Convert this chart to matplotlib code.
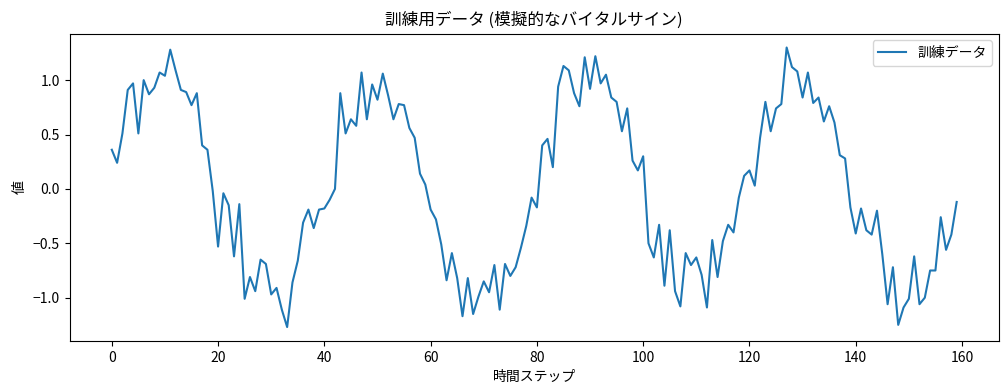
import numpy as np
import matplotlib.pyplot as plt

plt.rcParams['font.family'] = ['Noto Sans CJK JP', 'DejaVu Sans']

# Training data values (steps 0..159)
values = [
    0.36, 0.24, 0.51, 0.91, 0.97, 0.51, 1.00, 0.87, 0.93, 1.07,
    1.04, 1.28, 1.09, 0.91, 0.89, 0.77, 0.88, 0.40, 0.36, -0.02,
    -0.53, -0.04, -0.15, -0.62, -0.14, -1.01, -0.81, -0.94, -0.65, -0.69,
    -0.97, -0.91, -1.11, -1.27, -0.86, -0.66, -0.31, -0.19, -0.36, -0.19,
    -0.18, -0.10, 0.00, 0.88, 0.51, 0.64, 0.58, 1.07, 0.64, 0.96,
    0.82, 1.06, 0.86, 0.64, 0.78, 0.77, 0.56, 0.47, 0.14, 0.04,
    -0.19, -0.28, -0.51, -0.84, -0.59, -0.82, -1.17, -0.82, -1.15, -0.99,
    -0.85, -0.95, -0.70, -1.11, -0.69, -0.80, -0.72, -0.54, -0.34, -0.08,
    -0.17, 0.40, 0.46, 0.20, 0.94, 1.13, 1.09, 0.88, 0.76, 1.21,
    0.92, 1.22, 0.97, 1.05, 0.84, 0.80, 0.53, 0.74, 0.26, 0.17,
    0.30, -0.50, -0.63, -0.33, -0.89, -0.38, -0.94, -1.08, -0.59, -0.70,
    -0.63, -0.79, -1.09, -0.47, -0.81, -0.48, -0.33, -0.40, -0.08, 0.12,
    0.17, 0.03, 0.47, 0.80, 0.53, 0.74, 0.78, 1.30, 1.12, 1.08,
    0.84, 1.07, 0.79, 0.84, 0.62, 0.76, 0.61, 0.31, 0.28, -0.17,
    -0.41, -0.18, -0.38, -0.42, -0.20, -0.60, -1.06, -0.72, -1.25, -1.09,
    -1.01, -0.62, -1.06, -1.00, -0.75, -0.75, -0.26, -0.56, -0.42, -0.12,
]
steps = np.arange(len(values))

fig, ax = plt.subplots(figsize=(10.08, 3.92), dpi=100)
ax.plot(steps, values, color='#1f77b4', label='訓練データ')
ax.set_title('訓練用データ (模擬的なバイタルサイン)')
ax.set_xlabel('時間ステップ')
ax.set_ylabel('値')
ax.legend(loc='upper right')
fig.subplots_adjust(left=0.069, right=0.991, top=0.9145, bottom=0.130)
fig.savefig('out.png')
